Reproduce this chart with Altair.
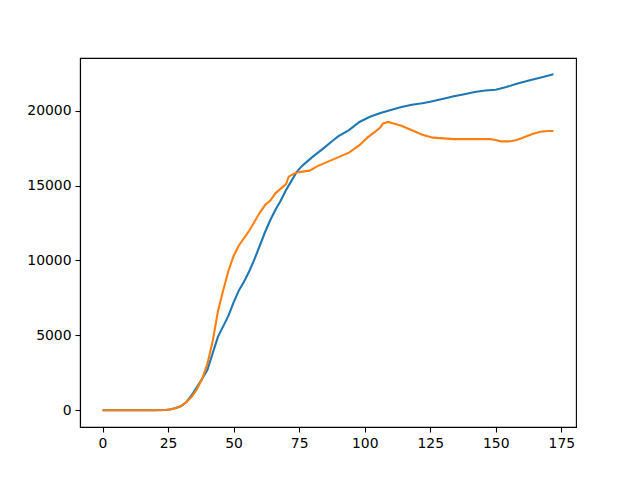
import altair as alt
import pandas as pd

blue_x = [0, 10, 20, 24, 26, 28, 30, 32, 34, 36, 38, 40, 42, 44, 46, 48, 50, 52, 54, 56, 58,
          60, 62, 64, 66, 68, 70, 72, 74, 76, 78, 80, 84, 88, 90, 94, 98, 102, 106, 110, 114,
          118, 122, 125, 130, 134, 138, 142, 146, 150, 154, 158, 163, 168, 172]
blue_y = [0, 0, 0, 20, 60, 150, 280, 550, 1000, 1550, 2100, 2700, 3800, 4900, 5600, 6300, 7200,
          8000, 8600, 9300, 10100, 11000, 11900, 12700, 13400, 14000, 14700, 15300, 15900, 16300,
          16600, 16900, 17450, 18030, 18300, 18700, 19250, 19600, 19850, 20050, 20250, 20400,
          20500, 20600, 20800, 20960, 21100, 21250, 21350, 21400, 21580, 21800, 22030, 22250, 22430]

orange_x = [0, 10, 20, 24, 26, 28, 30, 32, 34, 36, 38, 40, 42, 43, 44, 46, 48, 50, 52, 54, 56,
            58, 60, 62, 64, 66, 68, 70, 71, 73, 75, 79, 82, 86, 90, 94, 98, 101, 104, 106, 107,
            109, 111, 114, 118, 122, 126, 130, 134, 140, 148, 150, 152, 155, 158, 161, 164, 167,
            170, 172]
orange_y = [0, 0, 0, 20, 50, 150, 280, 550, 900, 1400, 2100, 3100, 4600, 5600, 6600, 8000, 9300,
            10300, 11000, 11500, 12000, 12600, 13200, 13700, 14000, 14500, 14800, 15100, 15600,
            15800, 15900, 16000, 16300, 16600, 16900, 17200, 17700, 18200, 18600, 18900, 19150,
            19250, 19150, 19000, 18700, 18400, 18200, 18150, 18100, 18100, 18100, 18050, 17950,
            17950, 18050, 18250, 18450, 18600, 18650, 18650]

series_names = ["blue", "orange"]
series_colors = ["#1f77b4", "#ff7f0e"]

df = pd.concat([
    pd.DataFrame({"x": blue_x, "y": blue_y, "s": series_names[0]}),
    pd.DataFrame({"x": orange_x, "y": orange_y, "s": series_names[1]}),
])

x_ticks = [0, 25, 50, 75, 100, 125, 150, 175]
y_ticks = [0, 5000, 10000, 15000, 20000]

axis_common = dict(
    grid=False, domain=True, domainColor="black", domainWidth=1.1,
    tickColor="black", tickSize=5, tickWidth=1.1,
    labelColor="black", labelFont="DejaVu Sans", labelFontSize=13.9, labelPadding=4,
    title=None,
)

chart = alt.Chart(df).mark_line(strokeWidth=2.1, clip=True).encode(
    x=alt.X("x:Q", scale=alt.Scale(domain=[-8.6, 180.6], nice=False, zero=False),
            axis=alt.Axis(values=x_ticks, format="d", **axis_common)),
    y=alt.Y("y:Q", scale=alt.Scale(domain=[-1120, 23520], nice=False, zero=False),
            axis=alt.Axis(values=y_ticks, format="d", **axis_common)),
    color=alt.Color("s:N", scale=alt.Scale(domain=series_names, range=series_colors), legend=None),
).properties(
    width=496, height=369,
    autosize=alt.AutoSizeParams(type="none"),
    padding={"left": 72, "top": 50, "right": 56, "bottom": 45},
    background="white",
).configure_view(
    stroke="black", strokeWidth=1.1,
)

chart.save("out.html", embed_options={"renderer": "svg", "actions": False})
